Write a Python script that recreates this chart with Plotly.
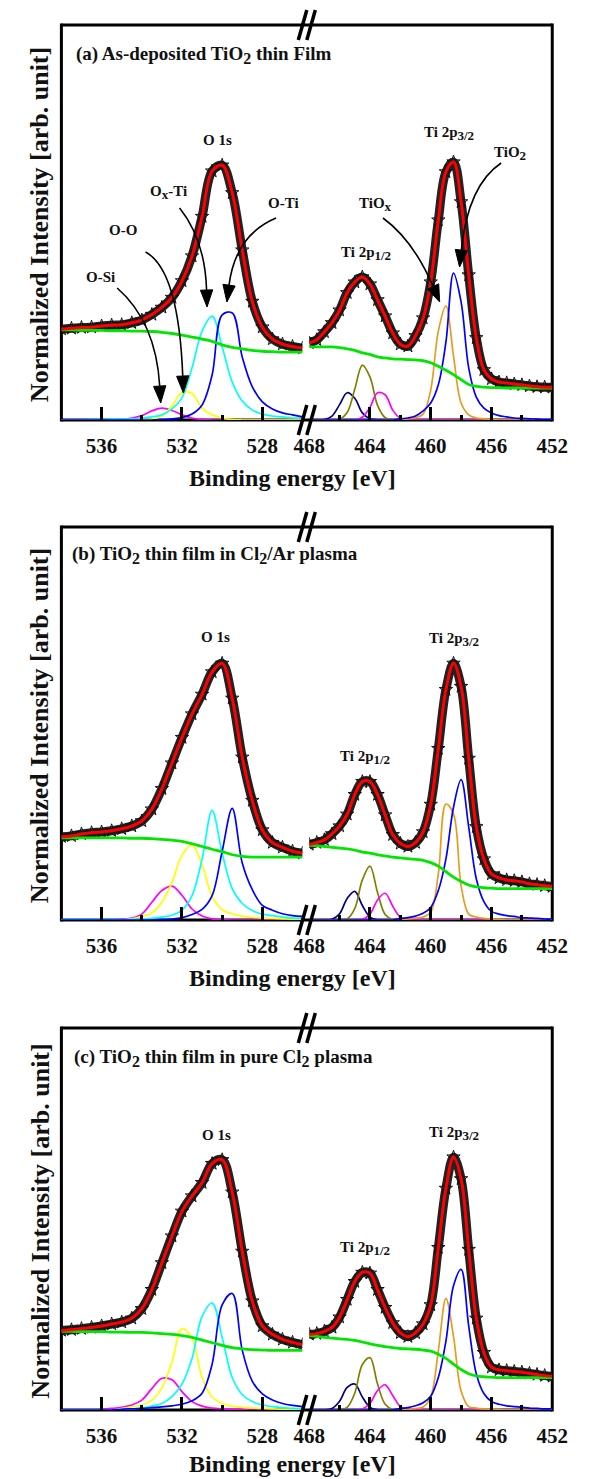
import plotly.graph_objects as go

W, H = 590, 1479

# ---------------- binding-energy sampling grids (eV) ----------------
E_O1S = [538.0, 537.5, 537.0, 536.5, 536.0, 535.5, 535.0, 534.5, 534.0, 533.5, 533.0, 532.5, 532.0,
         531.5, 531.0, 530.5, 530.0, 529.5, 529.0, 528.5, 528.0, 527.5, 527.0, 526.5, 526.0]
E_TI2P = [468.0, 467.5, 467.0, 466.5, 466.0, 465.5, 465.0, 464.5, 464.0, 463.5, 463.0, 462.5, 462.0,
          461.5, 461.0, 460.5, 460.0, 459.5, 459.0, 458.5, 458.0, 457.5, 457.0, 456.5, 456.0, 455.5,
          455.0, 454.5, 454.0, 453.5, 453.0, 452.5, 452.0]

# ---------------- (a) as-deposited ----------------
A_O_TOTAL = [23.0, 23.2, 23.4, 23.5, 23.8, 24.0, 24.1, 24.6, 25.3, 26.7, 28.5, 31.0, 35.2, 41.5, 51.5,
             63.0, 64.5, 57.5, 43.0, 30.0, 23.5, 20.5, 19.2, 18.6, 18.2]
A_O_BG = [22.8, 22.8, 22.7, 22.7, 22.7, 22.6, 22.6, 22.5, 22.5, 22.4, 22.2, 21.9, 21.5, 21.0, 20.5,
          19.9, 19.0, 18.4, 18.0, 17.6, 17.4, 17.3, 17.2, 17.2, 17.2]
A_O_SI = [0, 0, 0, 0, 0, 0.05, 0.1, 0.5, 1.1, 2.3, 3.0, 2.4, 1.3, 0.5, 0.1, 0, 0, 0, 0, 0, 0, 0, 0, 0, 0]
A_O_O = [0, 0, 0, 0, 0, 0, 0, 0, 0.1, 0.25, 1.0, 3.5, 7.0, 6.7, 3.0, 1.3, 0.5, 0.1, 0, 0, 0, 0, 0, 0, 0]
A_OX_TI = [0, 0, 0, 0.1, 0.1, 0.2, 0.2, 0.3, 0.5, 0.8, 1.3, 2.8, 5.6, 13.2, 22.5, 26.3, 18.5, 9.6, 4.8,
           2.5, 1.5, 1.0, 0.8, 0.5, 0.5]
A_O_TI = [0, 0, 0, 0, 0, 0, 0, 0, 0, 0, 0.1, 0.3, 0.6, 1.5, 3.8, 11.4, 26.6, 27.1, 15.9, 8.4, 4.6, 2.8,
          1.8, 1.3, 0.8]

A_TI_TOTAL = [19.5, 20.3, 22.3, 24.6, 27.8, 32.2, 34.9, 36.2, 34.4, 30.4, 26.3, 22.0, 19.2, 18.7, 21.3,
              25.8, 34.9, 50.6, 62.8, 65.3, 55.2, 36.7, 20.8, 12.7, 10.4, 9.6, 9.4, 9.1, 8.9, 8.6, 8.4,
              8.3, 8.3]
A_TI_BG = [18.5, 18.5, 18.5, 18.5, 18.3, 18.0, 17.6, 17.0, 16.6, 16.0, 15.7, 15.5, 15.4, 15.3, 15.2,
           15.0, 14.5, 13.6, 12.6, 11.5, 10.2, 9.0, 8.5, 8.3, 8.2, 8.2, 8.1, 8.1, 8.1, 8.1, 8.1, 8.1, 8.1]
A_TI_SAT1 = [0, 0, 0.1, 1.0, 3.9, 6.9, 5.5, 1.8, 0.3, 0.05, 0, 0, 0, 0, 0, 0, 0, 0, 0, 0, 0, 0, 0, 0,
             0, 0, 0, 0, 0, 0, 0, 0, 0]
A_TI_P12 = [0, 0, 0, 0, 0.2, 1.9, 7.8, 13.9, 10.9, 3.7, 0.6, 0.05, 0, 0, 0, 0, 0, 0, 0, 0, 0, 0, 0, 0,
            0, 0, 0, 0, 0, 0, 0, 0, 0]
A_TI_SAT2 = [0, 0, 0, 0, 0, 0, 0, 0.7, 3.2, 6.9, 6.4, 2.5, 0.4, 0, 0, 0, 0, 0, 0, 0, 0, 0, 0, 0, 0, 0,
             0, 0, 0, 0, 0, 0, 0]
A_TIOX = [0, 0, 0, 0, 0, 0, 0, 0, 0, 0, 0, 0, 0, 0.3, 0.6, 1.5, 7.6, 22.5, 28.9, 16.2, 4.3, 1.3, 0.5,
          0.3, 0.1, 0, 0, 0, 0, 0, 0, 0, 0]
A_TIO2 = [0, 0, 0, 0, 0, 0, 0, 0, 0, 0, 0, 0, 0.3, 0.5, 1.0, 2.3, 4.3, 8.9, 19.7, 37.2, 29.9, 13.2, 5.8,
          3.0, 1.8, 1.1, 0.8, 0.5, 0.4, 0.3, 0.2, 0.1, 0.1]

# ---------------- (b) Cl2/Ar plasma ----------------
B_O_TOTAL = [21.2, 21.4, 21.9, 22.2, 22.4, 22.7, 23.2, 23.9, 25.2, 28.2, 33.4, 39.9, 46.4, 52.4, 57.4,
             63.1, 65.3, 56.4, 41.4, 30.4, 22.9, 19.7, 18.5, 17.5, 17.0]
B_O_BG = [20.9, 20.9, 20.9, 20.9, 20.9, 20.9, 20.9, 20.8, 20.8, 20.7, 20.5, 20.3, 20.0, 19.4, 18.7,
          18.0, 17.4, 16.6, 16.2, 16.0, 16.0, 16.0, 16.0, 16.0, 16.0]
B_O_SI = [0, 0, 0, 0, 0, 0, 0.2, 0.5, 1.5, 4.5, 7.5, 8.6, 6.3, 2.8, 1.0, 0.3, 0.1, 0, 0, 0, 0, 0, 0, 0, 0]
B_O_O = [0, 0, 0, 0, 0, 0, 0, 0.3, 0.9, 1.8, 4.5, 9.5, 16.5, 19.1, 14.0, 6.0, 2.6, 1.6, 1.0, 0.7, 0.5,
         0.4, 0.3, 0.2, 0.2]
B_OX_TI = [0.1, 0.1, 0.1, 0.1, 0.1, 0.1, 0.1, 0.15, 0.25, 0.4, 0.75, 1.2, 2.5, 6.2, 15.5, 27.9, 17.0,
           8.0, 4.2, 2.4, 1.5, 1.1, 0.75, 0.5, 0.4]
B_O_TI = [0, 0, 0, 0, 0, 0, 0, 0, 0, 0, 0.1, 0.25, 0.6, 1.4, 2.7, 6.2, 17.5, 28.4, 14.5, 7.7, 3.7, 2.5,
          1.6, 1.1, 0.9]

B_TI_TOTAL = [19.2, 19.7, 20.4, 21.9, 23.9, 26.9, 31.9, 35.2, 35.2, 31.9, 26.7, 21.7, 19.5, 18.7, 19.7,
              22.4, 29.4, 43.6, 58.6, 65.3, 59.4, 41.1, 23.7, 15.5, 11.7, 10.7, 10.2, 10.0, 9.7, 9.2,
              9.0, 8.7, 8.5]
B_TI_BG = [19.0, 18.9, 18.7, 18.5, 18.3, 18.1, 17.8, 17.3, 17.0, 16.6, 16.3, 16.0, 15.8, 15.6, 15.4,
           15.2, 14.6, 13.7, 12.3, 10.9, 9.8, 8.9, 8.4, 8.2, 8.1, 8.0, 8.0, 8.0, 8.0, 8.0, 8.0, 8.0, 8.0]
B_TI_SAT1 = [0, 0, 0.05, 0.2, 1.6, 5.5, 7.3, 3.7, 0.75, 0.05, 0, 0, 0, 0, 0, 0, 0, 0, 0, 0, 0, 0, 0, 0,
             0, 0, 0, 0, 0, 0, 0, 0, 0]
B_TI_P12 = [0, 0, 0, 0, 0, 0.3, 2.9, 10.2, 13.7, 7.0, 1.4, 0.1, 0, 0, 0, 0, 0, 0, 0, 0, 0, 0, 0, 0, 0,
            0, 0, 0, 0, 0, 0, 0, 0]
B_TI_SAT2 = [0, 0, 0, 0, 0, 0, 0, 0.15, 1.5, 5.1, 6.8, 3.5, 0.7, 0.05, 0, 0, 0, 0, 0, 0, 0, 0, 0, 0,
             0, 0, 0, 0, 0, 0, 0, 0, 0]
B_TIOX = [0, 0, 0, 0, 0, 0, 0, 0, 0, 0, 0, 0, 0, 0.25, 0.5, 0.75, 2.0, 11.7, 29.5, 27.0, 8.7, 1.5,
          0.75, 0.4, 0.25, 0.1, 0, 0, 0, 0, 0, 0, 0]
B_TIO2 = [0, 0, 0, 0, 0, 0, 0, 0, 0, 0, 0, 0, 0.4, 0.6, 1.0, 1.7, 3.2, 7.5, 15.5, 28.7, 35.7, 23.7, 10.5,
          4.7, 2.2, 1.5, 1.1, 0.9, 0.6, 0.5, 0.4, 0.25, 0.25]

# ---------------- (c) pure Cl2 plasma ----------------
C_O_TOTAL = [20.8, 21.0, 21.3, 21.6, 22.0, 22.5, 23.0, 24.0, 26.5, 31.5, 38.5, 45.5, 52.0, 56.0, 59.5,
             64.5, 65.5, 57.0, 41.5, 28.5, 22.0, 19.8, 18.5, 17.7, 17.1]
C_O_BG = [20.6, 20.6, 20.5, 20.5, 20.5, 20.4, 20.4, 20.3, 20.3, 20.2, 20.0, 19.8, 19.5, 19.0, 18.3,
          17.6, 16.9, 16.3, 16.0, 15.8, 15.7, 15.6, 15.6, 15.6, 15.6]
C_O_SI = [0, 0, 0, 0, 0.2, 0.4, 0.7, 1.3, 2.6, 5.6, 8.3, 7.9, 4.8, 2.2, 1.0, 0.5, 0.3, 0.2, 0.1, 0, 0,
          0, 0, 0, 0]
C_O_O = [0, 0, 0, 0, 0, 0, 0.4, 0.8, 1.3, 2.6, 5.8, 12.5, 21.3, 18.8, 8.5, 3.4, 1.7, 1.0, 0.7, 0.5, 0.4,
         0.3, 0.2, 0.2, 0.1]
C_OX_TI = [0, 0, 0, 0, 0, 0, 0.2, 0.3, 0.5, 1.0, 1.7, 3.5, 6.8, 13.5, 24.5, 28.0, 19.0, 8.5, 4.0, 2.2,
           1.3, 0.9, 0.6, 0.4, 0.3]
C_O_TI = [0, 0, 0, 0, 0, 0, 0.2, 0.3, 0.4, 0.6, 0.8, 1.1, 1.5, 2.4, 4.4, 12.0, 27.5, 30.5, 15.6, 7.5,
          4.2, 2.6, 1.7, 1.2, 0.9]

C_TI_TOTAL = [19.8, 20.0, 20.6, 21.6, 24.3, 28.9, 33.6, 36.0, 35.8, 31.5, 26.8, 22.8, 20.2, 19.2, 20.2,
              22.5, 27.5, 42.5, 58.0, 66.2, 60.5, 42.0, 24.0, 15.0, 11.2, 10.5, 10.3, 10.1, 9.9, 9.6,
              9.3, 9.0, 8.8]
C_TI_BG = [19.5, 19.3, 19.0, 18.8, 18.6, 18.5, 18.2, 17.8, 17.3, 16.9, 16.6, 16.3, 16.1, 16.0, 15.9,
           15.7, 15.4, 14.6, 13.5, 12.0, 10.6, 9.5, 8.9, 8.7, 8.6, 8.5, 8.5, 8.5, 8.5, 8.5, 8.5, 8.5, 8.5]
C_TI_SAT1 = [0, 0, 0.03, 0.4, 2.3, 5.9, 6.8, 3.4, 0.7, 0.07, 0, 0, 0, 0, 0, 0, 0, 0, 0, 0, 0, 0, 0, 0,
             0, 0, 0, 0, 0, 0, 0, 0, 0]
C_TI_P12 = [0, 0, 0, 0, 0.05, 0.7, 4.4, 11.9, 13.7, 6.8, 1.5, 0.15, 0, 0, 0, 0, 0, 0, 0, 0, 0, 0, 0, 0,
            0, 0, 0, 0, 0, 0, 0, 0, 0]
C_TI_SAT2 = [0, 0, 0, 0, 0, 0, 0, 0.25, 1.7, 5.1, 6.6, 3.8, 0.9, 0.1, 0, 0, 0, 0, 0, 0, 0, 0, 0, 0, 0,
             0, 0, 0, 0, 0, 0, 0, 0]
C_TIOX = [0, 0, 0, 0, 0, 0, 0, 0, 0, 0, 0, 0, 0, 0.2, 0.4, 0.8, 3.4, 15.5, 29.2, 19.2, 5.0, 0.9, 0.5,
          0.3, 0.2, 0.1, 0, 0, 0, 0, 0, 0, 0]
C_TIO2 = [0, 0, 0, 0, 0, 0, 0, 0, 0, 0, 0, 0, 0.4, 0.6, 1.1, 1.9, 3.6, 8.5, 18.0, 32.5, 36.8, 22.0, 9.5,
          4.3, 2.2, 1.5, 1.1, 0.9, 0.7, 0.5, 0.4, 0.3, 0.3]

O_TICKS = [536, 532, 528]
O_MINOR = [534, 530]
TI_TICKS = [468, 464, 460, 456, 452]
TI_MINOR = [466, 462, 458, 454]

# ---------------- styling ----------------
FONT = "Liberation Serif"
C_MAG, C_YEL, C_CYA, C_BLU = "#ff00ff", "#ffff00", "#00ffff", "#0000ff"
C_NAVY, C_OLIVE, C_ORANGE = "#000080", "#808000", "#e89b1c"
C_GREEN, C_RED = "#00e600", "#ff0000"

XL = (48, 303)   # O 1s section, px
XR = (310, 567)  # Ti 2p section, px


def sub(t, size):
    return f"<sub><span style='font-size:{size}px'>{t}</span></sub>"


LS = 15  # peak-label font size
LSUB = 13

PANELS = [
    dict(top=25, bot=420,
         title=f"(a) As-deposited TiO{sub('2', 16)} thin Film", title_xy=(61, 55),
         o=(A_O_TOTAL, A_O_BG, [A_O_SI, A_O_O, A_OX_TI, A_O_TI]),
         ti=(A_TI_TOTAL, A_TI_BG, [A_TI_SAT1, A_TI_P12, A_TI_SAT2, A_TIOX, A_TIO2]),
         labels=[("O 1s", 213, 140), (f"O{sub('x', LSUB)}-Ti", 161, 192), ("O-O", 113, 230),
                 ("O-Si", 89, 277), ("O-Ti", 283, 203), (f"Ti 2p{sub('1/2', LSUB)}", 370, 253),
                 (f"TiO{sub('x', LSUB)}", 380, 204), (f"Ti 2p{sub('3/2', LSUB)}", 458, 133),
                 (f"TiO{sub('2', LSUB)}", 522, 154)],
         arrows=[((107, 288), (148, 322), (153, 403)),
                 ((137, 252), (172, 270), (177, 393)),
                 ((173, 208), (200, 240), (202, 307)),
                 ((275, 218), (232, 235), (223, 302)),
                 ((388, 218), (420, 240), (448, 302)),
                 ((513, 163), (478, 185), (469, 267))]),
    dict(top=527, bot=920,
         title=f"(b) TiO{sub('2', 16)} thin film in Cl{sub('2', 16)}/Ar plasma", title_xy=(57, 555),
         o=(B_O_TOTAL, B_O_BG, [B_O_SI, B_O_O, B_OX_TI, B_O_TI]),
         ti=(B_TI_TOTAL, B_TI_BG, [B_TI_SAT1, B_TI_P12, B_TI_SAT2, B_TIOX, B_TIO2]),
         labels=[("O 1s", 211, 637), (f"Ti 2p{sub('1/2', LSUB)}", 369, 757),
                 (f"Ti 2p{sub('3/2', LSUB)}", 463, 639)],
         arrows=[]),
    dict(top=1028, bot=1410,
         title=f"(c) TiO{sub('2', 16)} thin film in pure Cl{sub('2', 16)} plasma", title_xy=(59, 1058),
         o=(C_O_TOTAL, C_O_BG, [C_O_SI, C_O_O, C_OX_TI, C_O_TI]),
         ti=(C_TI_TOTAL, C_TI_BG, [C_TI_SAT1, C_TI_P12, C_TI_SAT2, C_TIOX, C_TIO2]),
         labels=[("O 1s", 212, 1135), (f"Ti 2p{sub('1/2', LSUB)}", 369, 1248),
                 (f"Ti 2p{sub('3/2', LSUB)}", 463, 1133)],
         arrows=[]),
]

O_COLORS = [C_MAG, C_YEL, C_CYA, C_BLU]
TI_COLORS = [C_NAVY, C_OLIVE, C_MAG, C_ORANGE, C_BLU]


def px(x):
    return x / W


def py(y):
    return 1 - y / H


fig = go.Figure()
layout = dict(width=W, height=H, margin=dict(l=0, r=0, t=0, b=0),
              paper_bgcolor="white", plot_bgcolor="rgba(0,0,0,0)", showlegend=False,
              font=dict(family=FONT, color="black"))
shapes, annotations = [], []

tickfont = dict(family=FONT, size=21, color="#111", weight="bold")


def add_section(xs, total, bg, comps, colors, xa, ya):
    fig.add_trace(go.Scatter(x=xs, y=total, mode="lines+markers", xaxis=xa, yaxis=ya,
                             hoverinfo="skip", cliponaxis=True,
                             line=dict(color="#222222", width=9, shape="spline"),
                             marker=dict(symbol="star-open", size=10, color="#111111",
                                         line=dict(width=1, color="#111111"))))
    for ys, col in zip(comps, colors):
        fig.add_trace(go.Scatter(x=xs, y=ys, mode="lines", xaxis=xa, yaxis=ya, hoverinfo="skip",
                                 line=dict(color=col, width=1.7, shape="spline")))
    fig.add_trace(go.Scatter(x=xs, y=bg, mode="lines", xaxis=xa, yaxis=ya, hoverinfo="skip",
                             line=dict(color=C_GREEN, width=2.8, shape="spline")))
    fig.add_trace(go.Scatter(x=xs, y=total, mode="lines", xaxis=xa, yaxis=ya, hoverinfo="skip",
                             line=dict(color=C_RED, width=3, shape="spline")))


def add_arrow(p0, pc, p1, hl=17, hw=6.5):
    dx, dy = p1[0] - pc[0], p1[1] - pc[1]
    n = (dx * dx + dy * dy) ** 0.5
    ux, uy = dx / n, dy / n
    bx, by = p1[0] - ux * hl, p1[1] - uy * hl
    nx, ny = -uy, ux
    shapes.append(dict(type="path", xref="paper", yref="paper", layer="above",
                       path=f"M {px(p0[0])},{py(p0[1])} Q {px(pc[0])},{py(pc[1])} {px(bx)},{py(by)}",
                       line=dict(color="black", width=1.6)))
    shapes.append(dict(type="path", xref="paper", yref="paper", layer="above",
                       path=(f"M {px(p1[0])},{py(p1[1])} L {px(bx + nx * hw)},{py(by + ny * hw)} "
                             f"L {px(bx - nx * hw)},{py(by - ny * hw)} Z"),
                       fillcolor="black", line=dict(color="black", width=1)))


def seg(x0, y0, x1, y1, width=3, color="black", layer="below"):
    shapes.append(dict(type="line", xref="paper", yref="paper", layer=layer,
                       x0=px(x0), y0=py(y0), x1=px(x1), y1=py(y1),
                       line=dict(color=color, width=width)))


for i, P in enumerate(PANELS):
    top, bot = P["top"], P["bot"]
    xl_id, xr_id, y_id = 2 * i + 1, 2 * i + 2, i + 1
    xl_name = "x" if xl_id == 1 else f"x{xl_id}"
    xr_name = f"x{xr_id}"
    y_name = "y" if y_id == 1 else f"y{y_id}"
    ykey = "yaxis" if y_id == 1 else f"yaxis{y_id}"
    xlkey = "xaxis" if xl_id == 1 else f"xaxis{xl_id}"
    xrkey = f"xaxis{xr_id}"

    layout[ykey] = dict(domain=[py(bot), py(top)], range=[0, 100], visible=False,
                        anchor=xl_name, fixedrange=True)
    common = dict(anchor=y_name, showgrid=False, zeroline=False, showline=False,
                  ticks="inside", ticklen=13, tickwidth=3, tickcolor="black",
                  tickfont=tickfont, ticklabelstandoff=11, fixedrange=True)
    layout[xlkey] = dict(domain=[px(XL[0]), px(XL[1])], range=[538, 526],
                         tickmode="array", tickvals=O_TICKS, ticktext=[str(v) for v in O_TICKS],
                         minor=dict(tickmode="array", tickvals=O_MINOR, ticks="inside",
                                    ticklen=5, tickwidth=3, tickcolor="black"),
                         **common)
    layout[xrkey] = dict(domain=[px(XR[0]), px(XR[1])], range=[468, 452],
                         tickmode="array", tickvals=TI_TICKS, ticktext=[str(v) for v in TI_TICKS],
                         minor=dict(tickmode="array", tickvals=TI_MINOR, ticks="inside",
                                    ticklen=5, tickwidth=3, tickcolor="black"),
                         **common)

    tot, bg, comps = P["o"]
    add_section(E_O1S, tot, bg, comps, O_COLORS, xl_name, y_name)
    tot, bg, comps = P["ti"]
    add_section(E_TI2P, tot, bg, comps, TI_COLORS, xr_name, y_name)

    # frame
    seg(48, top, 567, top)
    seg(48, bot, 567, bot)
    seg(48, top - 1.5, 48, bot + 1.5)
    seg(567, top - 1.5, 567, bot + 1.5)
    # axis break marks "//"
    for yc in (top, bot):
        for xc in (303, 312):
            seg(xc - 4.5, yc + 15, xc + 4.5, yc - 15, width=3.5, layer="above")

    # titles / labels
    tx, ty = P["title_xy"]
    annotations.append(dict(xref="paper", yref="paper", x=px(tx), y=py(ty), xanchor="left",
                            yanchor="middle", showarrow=False, text=f"<b>{P['title']}</b>",
                            font=dict(family=FONT, size=19, color="#111")))
    for txt, lx, ly in P["labels"]:
        annotations.append(dict(xref="paper", yref="paper", x=px(lx), y=py(ly), xanchor="center",
                                yanchor="middle", showarrow=False, text=f"<b>{txt}</b>",
                                font=dict(family=FONT, size=LS, color="#111")))
    for a in P["arrows"]:
        add_arrow(*a)

    annotations.append(dict(xref="paper", yref="paper", x=px(292), y=py(min(bot + 58, 1464)),
                            xanchor="center", yanchor="middle", showarrow=False,
                            text="<b>Binding energy [eV]</b>",
                            font=dict(family=FONT, size=24, color="#111")))
    annotations.append(dict(xref="paper", yref="paper", x=px(25), y=py((top + bot) / 2 + 2),
                            xanchor="center", yanchor="middle", showarrow=False, textangle=-90,
                            text="<b>Normalized Intensity [arb. unit]</b>",
                            font=dict(family=FONT, size=26, color="#111")))

layout["shapes"] = shapes
layout["annotations"] = annotations
fig.update_layout(**layout)
fig.write_html("out.html", config={"displayModeBar": False, "staticPlot": True},
               post_script="document.body.style.margin='0px';"
                           "document.documentElement.style.overflow='hidden';")
